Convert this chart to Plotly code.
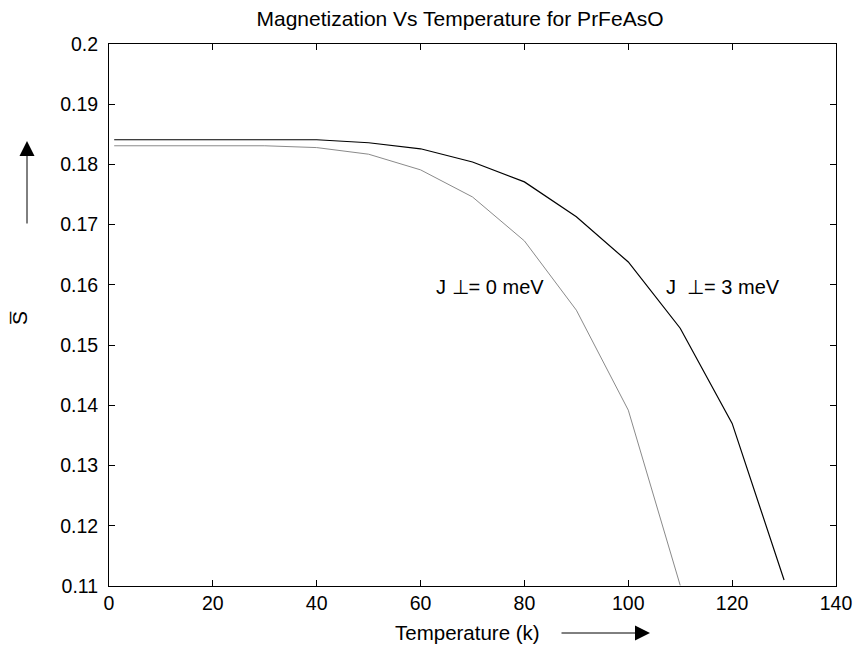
import plotly.graph_objects as go

# Data
temperature = [1, 10, 20, 30, 40, 50, 60, 70, 80, 90, 100, 110, 120, 130]
s_j3 = [0.1841, 0.1841, 0.1841, 0.1841, 0.1841, 0.1836, 0.1826, 0.1804,
        0.1771, 0.1713, 0.1638, 0.1528, 0.1370, 0.1110]
temperature_j0 = [1, 10, 20, 30, 40, 50, 60, 70, 80, 90, 100, 110]
s_j0 = [0.1831, 0.1831, 0.1831, 0.1831, 0.1828, 0.1817, 0.1791, 0.1746,
        0.1673, 0.1558, 0.1392, 0.1101]

x_ticks = [0, 20, 40, 60, 80, 100, 120, 140]
y_ticks = [0.11, 0.12, 0.13, 0.14, 0.15, 0.16, 0.17, 0.18, 0.19, 0.2]
y_tick_text = ["0.11", "0.12", "0.13", "0.14", "0.15", "0.16", "0.17", "0.18", "0.19", "0.2"]

FONT = "Liberation Sans, Arial, sans-serif"
W, H = 853, 649

fig = go.Figure()
fig.add_trace(go.Scatter(x=temperature_j0, y=s_j0, mode="lines",
                         line=dict(color="#8a8a8a", width=1), showlegend=False))
fig.add_trace(go.Scatter(x=temperature, y=s_j3, mode="lines",
                         line=dict(color="black", width=1.2), showlegend=False))

fig.update_layout(
    width=W, height=H,
    margin=dict(l=109, r=17, t=44, b=63),
    paper_bgcolor="white", plot_bgcolor="white",
    font=dict(family=FONT, size=19, color="black"),
    title=dict(text="Magnetization Vs Temperature for PrFeAsO",
               x=460 / W, xanchor="center",
               y=1 - 19 / H, yanchor="middle", yref="container",
               font=dict(size=21, family=FONT, color="black")),
)
fig.update_xaxes(range=[0, 140], tickvals=x_ticks, ticks="inside", ticklen=6,
                 showline=True, linecolor="black", linewidth=1, mirror="ticks",
                 showgrid=False, zeroline=False, tickcolor="black",
                 automargin=False, tickfont=dict(size=19.5))
fig.update_yaxes(range=[0.11, 0.2], tickvals=y_ticks, ticktext=y_tick_text,
                 ticks="inside", ticklen=6, ticklabelstandoff=6,
                 showline=True, linecolor="black", linewidth=1, mirror="ticks",
                 showgrid=False, zeroline=False, tickcolor="black",
                 automargin=False, tickfont=dict(size=19.5))

# curve labels
fig.add_annotation(x=62.6, y=0.1596, xref="x", yref="y", text="J ⊥= 0 meV",
                   showarrow=False, xanchor="left", yanchor="middle",
                   font=dict(size=20))
fig.add_annotation(x=106.9, y=0.1596, xref="x", yref="y", text="J  ⊥= 3 meV",
                   showarrow=False, xanchor="left", yanchor="middle",
                   font=dict(size=20))

# axis titles
fig.add_annotation(x=0.493, y=-0.0867, xref="paper", yref="paper",
                   text="Temperature (k)", showarrow=False,
                   xanchor="center", yanchor="middle", font=dict(size=20.5))
fig.add_annotation(x=(20 - 109) / 727, y=0.4945, xref="paper", yref="paper",
                   text="S\u0305", showarrow=False, textangle=-90,
                   xanchor="center", yanchor="middle", font=dict(size=21))

# decorative arrows
fig.add_annotation(x=(27 - 109) / 727, y=(586 - 141) / 542, xref="paper", yref="paper",
                   text="", showarrow=True, ax=0, ay=84, arrowhead=2,
                   arrowsize=3, arrowwidth=1, arrowcolor="black")
fig.add_annotation(x=(650 - 109) / 727, y=(586 - 633) / 542, xref="paper", yref="paper",
                   text="", showarrow=True, ax=-90, ay=0, arrowhead=2,
                   arrowsize=3, arrowwidth=1, arrowcolor="black")

# remove the default page margin so the figure fills the window exactly
fig.write_html("out.html",
               config={"displayModeBar": False},
               post_script="document.body.style.margin='0';document.body.style.overflow='hidden';")
